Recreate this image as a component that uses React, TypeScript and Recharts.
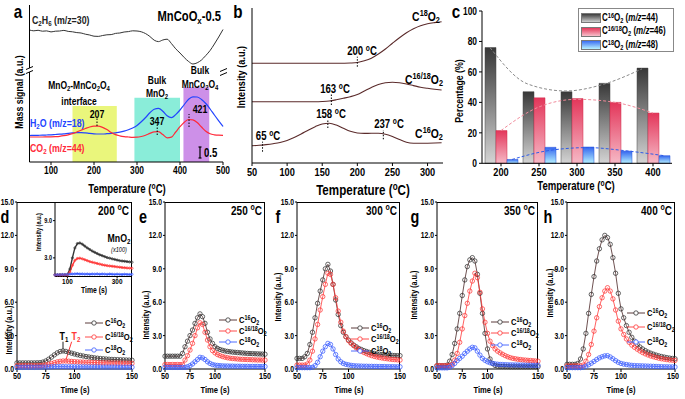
import React from "react";
import {
  LineChart,
  Line,
  XAxis,
  YAxis,
  ReferenceArea,
  ReferenceLine,
  ComposedChart,
  Bar,
} from "recharts";

const W = 685;
const H = 399;
const FONT = '"Liberation Sans", Arial, Helvetica, sans-serif';
const K = 0.8; // the figure uses a narrow bold face, so text is squeezed along its reading direction

// ---------- panel a (temperature in °C, signals in offset units)
const tempA = [50, 60, 70, 80, 90, 100, 110, 120, 130, 140, 150, 160, 170, 180, 190, 200, 210, 220, 230, 240, 250, 260, 270, 280, 290, 300, 310, 320, 330, 340, 350, 360, 370, 380, 390, 400, 410, 420, 430, 440, 450, 460, 470, 480, 490, 500];
const c2h6A = [132, 131.2, 131.7, 130.8, 131.1, 130.1, 130.8, 131, 131.6, 130.6, 130.2, 129.4, 129, 127.8, 127, 125.8, 125.6, 126.5, 127.2, 127.4, 128.6, 129, 130, 130.4, 131.2, 131, 130.2, 128.4, 125.5, 121.8, 120.4, 122, 122.8, 118.5, 113.2, 109, 104.4, 100.5, 98, 99.2, 102, 106.5, 111.5, 118, 125, 132.5];
const h2oA = [26.5, 26.6, 26.7, 26.8, 27, 27.2, 27.5, 27.8, 28.2, 28.7, 29.1, 29.4, 29.4, 29.1, 28.6, 28.2, 28, 28, 28.3, 28.7, 29.2, 29.8, 30.8, 32.2, 34, 36.5, 40.2, 44.5, 49.2, 52.8, 53.6, 50.8, 46.2, 44.4, 47.4, 52, 57.5, 62.8, 65.2, 65, 62.6, 58.5, 53, 47, 41.2, 35.5];
const co2A = [25, 25, 25, 25, 25.1, 25.2, 25.4, 25.7, 26.3, 27.2, 28.4, 30, 31.8, 33.5, 35, 35.8, 35.9, 34.6, 32.4, 29.5, 27.4, 26.2, 25.4, 25, 24.7, 24.8, 25.5, 26.8, 28.6, 30.1, 30.3, 27.4, 24.2, 24.8, 30, 35.3, 39.8, 42.5, 42.2, 39.5, 35, 30.7, 28.2, 27.2, 26.8, 26.7];

// ---------- panel b
const tempB = [50, 60, 70, 80, 90, 100, 110, 120, 130, 140, 150, 160, 170, 180, 190, 200, 210, 220, 230, 240, 250, 260, 270, 280, 290, 300, 310, 320];
const c18B = [99.7, 99.7, 99.7, 99.7, 99.7, 99.7, 99.7, 99.7, 99.7, 99.7, 99.7, 99.7, 99.7, 99.8, 100, 100.5, 102.2, 104.8, 109, 114, 119.7, 125.2, 130.2, 134.2, 137.2, 139.2, 140.4, 141.3];
const c1618B = [61.3, 61.3, 61.3, 61.3, 61.3, 61.3, 61.3, 61.3, 61.3, 61.3, 61.5, 62, 63.2, 64.7, 66.3, 68.5, 72, 75.5, 78.5, 80.2, 80.7, 80.2, 79, 77.4, 75.8, 74.7, 73.8, 73];
const c16B = [17.3, 17.7, 18.4, 19.3, 20.5, 22.5, 25.5, 29, 32.8, 36.3, 39, 39.7, 38, 34.7, 31.7, 30, 29.6, 29.7, 29.7, 28.8, 26.5, 23.5, 20.8, 19.8, 19.7, 19.8, 20, 20.3];

// ---------- panel c (percentage)
const catC = ["200", "250", "300", "350", "400"];
const c16C = [76, 47, 47, 52.5, 62.5];
const c1618C = [21.5, 43, 42.5, 40, 33];
const c18C = [2.5, 10.5, 10.7, 8, 5];
const c16Fit = [76, 52, 47.5, 52, 62];
const c1618Fit = [21.5, 37, 42, 40, 33];
const c18Fit = [2.5, 8.5, 10.3, 8.2, 5];

// ---------- panels d-h (time in s)
const timeS = [50, 52.5, 55, 57.5, 60, 62.5, 65, 67.5, 70, 72.5, 75, 77.5, 80, 82.5, 85, 87.5, 90, 92.5, 95, 97.5, 100, 102.5, 105, 107.5, 110, 112.5, 115, 117.5, 120, 122.5, 125, 127.5, 130, 132.5, 135, 137.5, 140, 142.5, 145, 147.5, 150];

const dBlack = [0.55, 0.55, 0.55, 0.55, 0.55, 0.55, 0.55, 0.56, 0.57, 0.62, 0.72, 0.88, 1.07, 1.27, 1.45, 1.57, 1.62, 1.58, 1.5, 1.42, 1.35, 1.28, 1.22, 1.17, 1.12, 1.08, 1.04, 1.0, 0.97, 0.94, 0.92, 0.9, 0.88, 0.86, 0.85, 0.84, 0.83, 0.82, 0.81, 0.8, 0.79];
const dRed = [0.3, 0.3, 0.3, 0.3, 0.3, 0.3, 0.3, 0.3, 0.31, 0.33, 0.37, 0.43, 0.5, 0.57, 0.64, 0.69, 0.72, 0.72, 0.7, 0.68, 0.66, 0.64, 0.63, 0.62, 0.61, 0.6, 0.59, 0.58, 0.57, 0.56, 0.56, 0.55, 0.55, 0.54, 0.54, 0.53, 0.53, 0.52, 0.52, 0.51, 0.51];
const dBlue = [0.15, 0.16, 0.15, 0.16, 0.15, 0.16, 0.15, 0.16, 0.16, 0.17, 0.17, 0.18, 0.19, 0.2, 0.21, 0.21, 0.21, 0.2, 0.2, 0.2, 0.19, 0.19, 0.19, 0.19, 0.18, 0.18, 0.18, 0.18, 0.18, 0.18, 0.17, 0.17, 0.17, 0.17, 0.17, 0.17, 0.17, 0.16, 0.16, 0.16, 0.16];

const eBlack = [1.15, 1.15, 1.15, 1.15, 1.15, 1.15, 1.15, 1.4, 2.0, 2.5, 3.0, 3.5, 4.1, 4.6, 4.95, 4.7, 4.1, 3.3, 2.7, 2.3, 2.0, 1.85, 1.75, 1.68, 1.62, 1.58, 1.55, 1.52, 1.5, 1.48, 1.46, 1.44, 1.42, 1.4, 1.39, 1.38, 1.37, 1.36, 1.35, 1.34, 1.33];
const eRed = [0.4, 0.4, 0.4, 0.4, 0.4, 0.4, 0.4, 0.4, 0.8, 1.2, 1.7, 2.3, 3.0, 3.7, 4.15, 4.0, 3.3, 2.6, 2.0, 1.65, 1.45, 1.3, 1.2, 1.12, 1.06, 1.01, 0.97, 0.94, 0.92, 0.9, 0.88, 0.87, 0.86, 0.85, 0.84, 0.83, 0.82, 0.81, 0.81, 0.8, 0.8];
const eBlue = [0.15, 0.15, 0.15, 0.15, 0.15, 0.15, 0.15, 0.15, 0.15, 0.2, 0.3, 0.45, 0.65, 0.85, 1.05, 1.0, 0.85, 0.65, 0.5, 0.4, 0.35, 0.32, 0.3, 0.28, 0.27, 0.27, 0.26, 0.26, 0.25, 0.25, 0.25, 0.24, 0.24, 0.24, 0.23, 0.23, 0.23, 0.23, 0.22, 0.22, 0.22];

const fBlack = [0.95, 0.95, 0.95, 1.1, 1.4, 2.2, 3.3, 4.6, 5.9, 7.0, 8.0, 9.0, 9.4, 8.8, 7.6, 6.2, 4.9, 3.9, 3.3, 2.9, 2.6, 2.35, 2.15, 2.0, 1.85, 1.75, 1.65, 1.57, 1.5, 1.45, 1.4, 1.36, 1.33, 1.3, 1.28, 1.26, 1.24, 1.22, 1.21, 1.2, 1.2];
const fRed = [0.35, 0.35, 0.35, 0.35, 0.45, 0.8, 1.6, 2.7, 4.0, 5.3, 6.5, 7.6, 8.6, 8.5, 7.6, 6.4, 5.2, 4.2, 3.4, 2.9, 2.55, 2.3, 2.1, 1.9, 1.75, 1.6, 1.48, 1.38, 1.28, 1.2, 1.13, 1.08, 1.03, 0.99, 0.95, 0.92, 0.89, 0.86, 0.84, 0.82, 0.8];
const fBlue = [0.12, 0.12, 0.12, 0.12, 0.12, 0.12, 0.15, 0.3, 0.6, 1.1, 1.6, 2.0, 2.3, 2.2, 1.8, 1.3, 0.9, 0.65, 0.5, 0.42, 0.37, 0.33, 0.3, 0.28, 0.27, 0.26, 0.25, 0.25, 0.24, 0.24, 0.23, 0.23, 0.22, 0.22, 0.22, 0.21, 0.21, 0.21, 0.2, 0.2, 0.2];

const gBlack = [0.3, 0.3, 0.3, 0.3, 0.35, 0.7, 1.3, 2.3, 3.6, 5.0, 6.6, 8.0, 9.2, 9.8, 10.0, 9.7, 8.5, 6.8, 5.0, 3.2, 1.8, 0.9, 0.5, 0.32, 0.25, 0.22, 0.22, 0.21, 0.21, 0.2, 0.2, 0.2, 0.2, 0.2, 0.2, 0.2, 0.2, 0.2, 0.2, 0.2, 0.2];
const gRed = [0.3, 0.3, 0.3, 0.3, 0.3, 0.3, 0.4, 0.8, 1.4, 2.4, 3.6, 4.8, 5.9, 7.0, 7.9, 8.6, 8.2, 6.9, 5.4, 4.2, 3.2, 2.5, 2.1, 1.8, 1.6, 1.45, 1.32, 1.2, 1.1, 1.02, 0.96, 0.92, 0.88, 0.85, 0.82, 0.8, 0.78, 0.76, 0.74, 0.72, 0.7];
const gBlue = [0.1, 0.1, 0.1, 0.1, 0.1, 0.15, 0.3, 0.5, 0.75, 0.95, 1.15, 1.4, 1.6, 1.8, 1.95, 1.9, 1.6, 1.25, 0.95, 0.78, 0.65, 0.56, 0.5, 0.46, 0.43, 0.41, 0.4, 0.39, 0.38, 0.37, 0.37, 0.36, 0.36, 0.35, 0.35, 0.34, 0.34, 0.34, 0.33, 0.33, 0.33];

const hBlack = [0.42, 0.42, 0.42, 0.42, 0.5, 0.9, 1.8, 3.2, 5.0, 6.7, 8.3, 9.7, 10.8, 11.6, 12.0, 11.8, 11.2, 10.0, 8.6, 6.8, 5.4, 4.6, 3.9, 3.3, 2.85, 2.5, 2.2, 1.98, 1.8, 1.65, 1.52, 1.42, 1.33, 1.25, 1.18, 1.12, 1.07, 1.02, 0.98, 0.95, 0.92];
const hRed = [0.28, 0.28, 0.28, 0.28, 0.28, 0.28, 0.35, 0.7, 1.3, 2.2, 3.4, 4.6, 5.6, 6.4, 7.0, 7.3, 7.0, 6.3, 5.3, 4.3, 3.6, 3.1, 2.7, 2.4, 2.15, 1.95, 1.78, 1.62, 1.48, 1.36, 1.26, 1.17, 1.1, 1.03, 0.97, 0.92, 0.88, 0.84, 0.81, 0.79, 0.77];
const hBlue = [0.12, 0.12, 0.12, 0.12, 0.12, 0.12, 0.15, 0.25, 0.38, 0.52, 0.68, 0.85, 1.0, 1.1, 1.18, 1.2, 1.08, 0.92, 0.75, 0.6, 0.5, 0.44, 0.4, 0.36, 0.33, 0.31, 0.3, 0.29, 0.28, 0.27, 0.26, 0.25, 0.24, 0.23, 0.22, 0.21, 0.2, 0.2, 0.19, 0.19, 0.18];

// inset of d (MnO2, x100)
const timeInset = [50, 60, 70, 80, 90, 100, 110, 120, 130, 140, 150, 160, 170, 180, 190, 200, 210, 220, 230, 240, 250, 260, 270, 280, 290, 300, 310, 320, 330, 340, 350, 360];
const insetBlack = [0.3, 0.3, 0.3, 0.3, 0.3, 0.3, 1.2, 3.0, 4.6, 5.3, 5.4, 5.2, 4.9, 4.6, 4.35, 4.1, 3.9, 3.7, 3.5, 3.35, 3.2, 3.05, 2.95, 2.85, 2.75, 2.65, 2.55, 2.5, 2.45, 2.4, 2.35, 2.3];
const insetRed = [0.25, 0.25, 0.25, 0.25, 0.25, 0.25, 0.7, 1.8, 2.6, 2.9, 2.95, 2.85, 2.7, 2.55, 2.4, 2.3, 2.2, 2.1, 2.0, 1.9, 1.82, 1.75, 1.7, 1.65, 1.6, 1.55, 1.5, 1.45, 1.42, 1.38, 1.35, 1.32];
const insetBlue = [0.25, 0.3, 0.28, 0.32, 0.3, 0.35, 0.38, 0.4, 0.42, 0.45, 0.4, 0.42, 0.38, 0.4, 0.36, 0.4, 0.38, 0.42, 0.36, 0.4, 0.38, 0.35, 0.4, 0.37, 0.34, 0.38, 0.35, 0.33, 0.36, 0.34, 0.32, 0.35];

const BLACK = "#333";
const BLACK_LINE = "#4a2626";
const RED = "#ff3838";
const BLUE = "#3a5cff";

// chart margins so that the plot area lands on page coordinates
const plot = (l: number, t: number, r: number, b: number, yw: number, xh: number) => ({
  left: l - yw,
  top: t,
  right: W - r,
  bottom: H - b - xh,
});

const layer: React.CSSProperties = { position: "absolute", left: 0, top: 0 };
const axisStroke = { stroke: "#000", strokeWidth: 1 };

// tick text squeezed horizontally like the narrow face of the figure
const narrowTick = (fs: number, vertical: boolean, fmt?: (v: number) => string) => (props: any) => {
  const { x, y, payload, textAnchor } = props;
  const label = fmt ? fmt(Number(payload.value)) : String(payload.value);
  return (
    <text
      transform={`translate(${x},${y}) scale(${K},1)`}
      textAnchor={textAnchor}
      dy={vertical ? "0.35em" : "0.71em"}
      fontSize={fs}
      fontWeight={700}
      fontFamily={FONT}
      fill="#000"
    >
      {label}
    </text>
  );
};
const fixed1 = (v: number) => v.toFixed(1);

const Sb = ({ children }: { children: React.ReactNode }) => (
  <span style={{ fontSize: "0.7em", verticalAlign: "-0.3em", lineHeight: 0 }}>{children}</span>
);
const Sp = ({ children }: { children: React.ReactNode }) => (
  <span style={{ fontSize: "0.7em", verticalAlign: "0.5em", lineHeight: 0 }}>{children}</span>
);

type TxtProps = {
  x: number;
  y: number;
  s?: number;
  c?: string;
  a?: "start" | "middle" | "end";
  rot?: boolean;
  w?: number;
  it?: boolean;
  children: React.ReactNode;
};

function Txt({ x, y, s = 9, c = "#000", a = "middle", rot = false, w = 700, it = false, children }: TxtProps) {
  const tx = a === "middle" ? "-50%" : a === "end" ? "-100%" : "0%";
  const origin = a === "middle" ? "50% 50%" : a === "end" ? "100% 50%" : "0% 50%";
  return (
    <div
      style={{
        position: "absolute",
        left: x,
        top: y,
        transform: `translate(${tx}, -50%)${rot ? " rotate(-90deg)" : ""} scale(${K}, 1)`,
        transformOrigin: origin,
        whiteSpace: "nowrap",
        fontFamily: FONT,
        fontSize: s,
        fontWeight: w,
        fontStyle: it ? "italic" : "normal",
        color: c,
        lineHeight: 1,
      }}
    >
      {children}
    </div>
  );
}

const Deg = () => (
  <>
    <Sp>o</Sp>C
  </>
);

function PanelA() {
  const rows = tempA.map((t, i) => ({ t, c2h6: c2h6A[i], h2o: h2oA[i], co2: co2A[i] }));
  const dotted = { stroke: "#000", strokeWidth: 1, strokeDasharray: "1.5 1.5" };
  return (
    <div style={layer}>
      <LineChart width={W} height={H} data={rows} margin={plot(29.5, 5, 223, 162, 10, 20)}>
        <ReferenceArea x1={150} x2={253} y1={0} y2={56} fill="#eaf67c" fillOpacity={1} stroke="none" />
        <ReferenceArea x1={294} x2={400} y1={0} y2={64.3} fill="#8aedd9" fillOpacity={1} stroke="none" />
        <ReferenceArea x1={408} x2={468} y1={0} y2={74.7} fill="#cd90e8" fillOpacity={1} stroke="none" />
        <XAxis
          dataKey="t"
          type="number"
          domain={[50, 500]}
          ticks={[100, 200, 300, 400, 500]}
          height={20}
          tick={narrowTick(10.5, false)}
          tickSize={3}
          axisLine={axisStroke}
          tickLine={axisStroke}
        />
        <YAxis width={10} domain={[0, 157]} tick={false} tickLine={false} axisLine={axisStroke} />
        <Line dataKey="c2h6" stroke="#333" strokeWidth={1} dot={false} type="monotone" isAnimationActive={false} />
        <Line dataKey="h2o" stroke="#2244ff" strokeWidth={1.2} dot={false} type="monotone" isAnimationActive={false} />
        <Line dataKey="co2" stroke="#ff2a3a" strokeWidth={1.2} dot={false} type="monotone" isAnimationActive={false} />
        <ReferenceLine segment={[{ x: 207, y: 36 }, { x: 207, y: 44 }]} {...dotted} />
        <ReferenceLine segment={[{ x: 347, y: 27 }, { x: 347, y: 38 }]} {...dotted} />
        <ReferenceLine segment={[{ x: 421, y: 35 }, { x: 421, y: 48 }]} {...dotted} />
        <ReferenceLine segment={[{ x: 446.5, y: 4 }, { x: 446.5, y: 15 }]} stroke="#000" strokeWidth={1.2} />
        <ReferenceLine segment={[{ x: 443, y: 4 }, { x: 450, y: 4 }]} stroke="#000" strokeWidth={1.2} />
        <ReferenceLine segment={[{ x: 443, y: 15 }, { x: 450, y: 15 }]} stroke="#000" strokeWidth={1.2} />
      </LineChart>
      {/* axis break marks */}
      <svg width={W} height={H} style={{ position: "absolute", left: 0, top: 0 }}>
        <rect x={27} y={68} width={5} height={4} fill="#fff" />
        <line x1={26} y1={69.5} x2={33} y2={66.5} stroke="#000" strokeWidth={1} />
        <line x1={26} y1={73.5} x2={33} y2={70.5} stroke="#000" strokeWidth={1} />
        <line x1={220} y1={71.5} x2={227} y2={68.5} stroke="#000" strokeWidth={1} />
        <line x1={220} y1={75.5} x2={227} y2={72.5} stroke="#000" strokeWidth={1} />
      </svg>
      <Txt x={18} y={11} s={19}>a</Txt>
      <Txt x={19} y={92} s={11} rot>Mass signal (a.u.)</Txt>
      <Txt x={127} y={189} s={12}>Temperature (<Deg />)</Txt>
      <Txt x={32} y={20} s={11} a="start" c="#222">C<Sb>2</Sb>H<Sb>6</Sb> (m/z=30)</Txt>
      <Txt x={221} y={16} s={14} a="end">MnCoO<Sb>x</Sb>-0.5</Txt>
      <Txt x={79} y={85} s={10.6}>MnO<Sb>2</Sb>-MnCo<Sb>2</Sb>O<Sb>4</Sb></Txt>
      <Txt x={79} y={101} s={10.6}>interface</Txt>
      <Txt x={157} y={80} s={10.6}>Bulk</Txt>
      <Txt x={157} y={93} s={10.6}>MnO<Sb>2</Sb></Txt>
      <Txt x={200} y={70} s={10.6}>Bulk</Txt>
      <Txt x={200} y={84} s={10.6}>MnCo<Sb>2</Sb>O<Sb>4</Sb></Txt>
      <Txt x={97} y={114} s={11}>207</Txt>
      <Txt x={157} y={121} s={11}>347</Txt>
      <Txt x={200} y={109} s={11}>421</Txt>
      <Txt x={30} y={123} s={11} a="start" c="#2244ff">H<Sb>2</Sb>O (m/z=18)</Txt>
      <Txt x={30} y={148} s={11} a="start" c="#ff2a3a">CO<Sb>2</Sb> (m/z=44)</Txt>
      <Txt x={204} y={153} s={12} a="start">0.5</Txt>
    </div>
  );
}

function PanelB() {
  const rows = tempB.map((t, i) => ({ t, c18: c18B[i], c1618: c1618B[i], c16: c16B[i] }));
  const dotted = { stroke: "#000", strokeWidth: 1, strokeDasharray: "1.5 1.5" };
  const line = "#5b2b2b";
  return (
    <div style={layer}>
      <LineChart width={W} height={H} data={rows} margin={plot(252, 8, 443, 163, 5, 20)}>
        <XAxis
          dataKey="t"
          type="number"
          domain={[50, 322]}
          ticks={[50, 100, 150, 200, 250, 300]}
          height={20}
          tick={narrowTick(11.5, false)}
          tickSize={3}
          axisLine={axisStroke}
          tickLine={axisStroke}
        />
        <YAxis width={5} domain={[0, 155]} tick={false} tickLine={false} axisLine={axisStroke} />
        <Line dataKey="c18" stroke={line} strokeWidth={1.1} dot={false} type="monotone" isAnimationActive={false} />
        <Line dataKey="c1618" stroke={line} strokeWidth={1.1} dot={false} type="monotone" isAnimationActive={false} />
        <Line dataKey="c16" stroke={line} strokeWidth={1.1} dot={false} type="monotone" isAnimationActive={false} />
        <ReferenceLine segment={[{ x: 200, y: 96.3 }, { x: 200, y: 106.3 }]} {...dotted} />
        <ReferenceLine segment={[{ x: 163, y: 58 }, { x: 163, y: 70 }]} {...dotted} />
        <ReferenceLine segment={[{ x: 65, y: 11.3 }, { x: 65, y: 21.3 }]} {...dotted} />
        <ReferenceLine segment={[{ x: 158, y: 35 }, { x: 158, y: 43 }]} {...dotted} />
        <ReferenceLine segment={[{ x: 237, y: 23.7 }, { x: 237, y: 33 }]} {...dotted} />
      </LineChart>
      <Txt x={238} y={11} s={19}>b</Txt>
      <Txt x={242} y={77} s={11.5} rot>Intensity (a.u.)</Txt>
      <Txt x={363} y={190} s={14.5}>Temperature (<Deg />)</Txt>
      <Txt x={362} y={51} s={12}>200 <Deg /></Txt>
      <Txt x={335} y={89} s={12}>163 <Deg /></Txt>
      <Txt x={268} y={136} s={12}>65 <Deg /></Txt>
      <Txt x={331} y={114} s={12}>158 <Deg /></Txt>
      <Txt x={389} y={124} s={12}>237 <Deg /></Txt>
      <Txt x={426} y={16} s={13}>C<Sp>18</Sp>O<Sb>2</Sb></Txt>
      <Txt x={424} y={79} s={13}>C<Sp>16/18</Sp>O<Sb>2</Sb></Txt>
      <Txt x={429} y={133} s={13}>C<Sp>16</Sp>O<Sb>2</Sb></Txt>
    </div>
  );
}

function PanelC() {
  const rows = catC.map((cat, i) => ({ cat, c16: c16C[i], c1618: c1618C[i], c18: c18C[i] }));
  // bar centres sit one bar width (11 px of a 38 px band) either side of the category centre
  const shift = 11 / 38;
  const fit = (vals: number[], off: number) => vals.map((v, i) => ({ pos: i + off, v }));
  const legendRows = [
    { g: "linear-gradient(#3d3d3d, #cfcfcf)", label: "16", mz: "44" },
    { g: "linear-gradient(#e5385a, #f7c0cc)", label: "16/18", mz: "46" },
    { g: "linear-gradient(#3b6ef2, #b8f2ff)", label: "18", mz: "48" },
  ];
  return (
    <div style={layer}>
      <ComposedChart width={W} height={H} data={rows} margin={plot(482, 11, 672, 163.3, 20, 20)} barGap={0}>
        <defs>
          <linearGradient id="gGray" x1="0" y1="0" x2="0" y2="1">
            <stop offset="0%" stopColor="#383838" />
            <stop offset="100%" stopColor="#d4d4d4" />
          </linearGradient>
          <linearGradient id="gRed" x1="0" y1="0" x2="0" y2="1">
            <stop offset="0%" stopColor="#e3365a" />
            <stop offset="100%" stopColor="#f6b9c6" />
          </linearGradient>
          <linearGradient id="gBlue" x1="0" y1="0" x2="0" y2="1">
            <stop offset="0%" stopColor="#3466ef" />
            <stop offset="100%" stopColor="#b4f0ff" />
          </linearGradient>
        </defs>
        <XAxis
          xAxisId="cat"
          dataKey="cat"
          height={20}
          tick={narrowTick(11.5, false)}
          tickSize={3}
          axisLine={axisStroke}
          tickLine={axisStroke}
        />
        <XAxis xAxisId="num" dataKey="pos" type="number" domain={[-0.5, 4.5]} hide allowDataOverflow />
        <YAxis
          width={20}
          domain={[0, 100]}
          ticks={[0, 20, 40, 60, 80, 100]}
          tick={narrowTick(10.5, true)}
          tickSize={3}
          axisLine={axisStroke}
          tickLine={axisStroke}
        />
        <Bar xAxisId="cat" dataKey="c16" fill="url(#gGray)" stroke="#444" strokeWidth={0.5} barSize={11} isAnimationActive={false} />
        <Bar xAxisId="cat" dataKey="c1618" fill="url(#gRed)" stroke="#d02a4a" strokeWidth={0.5} barSize={11} isAnimationActive={false} />
        <Bar xAxisId="cat" dataKey="c18" fill="url(#gBlue)" stroke="#2a55d8" strokeWidth={0.5} barSize={11} isAnimationActive={false} />
        <Line xAxisId="num" data={fit(c16Fit, -shift)} dataKey="v" type="monotone" stroke="#8a8a8a" strokeWidth={1} strokeDasharray="3 2" dot={false} isAnimationActive={false} />
        <Line xAxisId="num" data={fit(c1618Fit, 0)} dataKey="v" type="monotone" stroke="#f08a9a" strokeWidth={1} strokeDasharray="3 2" dot={false} isAnimationActive={false} />
        <Line xAxisId="num" data={fit(c18Fit, shift)} dataKey="v" type="monotone" stroke="#2f5be8" strokeWidth={1} strokeDasharray="3 2" dot={false} isAnimationActive={false} />
      </ComposedChart>
      <div
        style={{
          position: "absolute",
          left: 578,
          top: 8,
          width: 96,
          height: 44,
          border: "1px solid #888",
          boxSizing: "border-box",
          background: "#fff",
        }}
      />
      {legendRows.map((r, i) => (
        <React.Fragment key={r.label}>
          <div
            style={{
              position: "absolute",
              left: 581,
              top: 13 + i * 13.5,
              width: 18,
              height: 8,
              background: r.g,
              border: "0.5px solid #777",
            }}
          />
          <Txt x={602} y={17.5 + i * 13.5} s={10} a="start">
            C<Sp>{r.label}</Sp>O<Sb>2</Sb> (<i>m/z</i>={r.mz})
          </Txt>
        </React.Fragment>
      ))}
      <Txt x={456} y={11} s={19}>c</Txt>
      <Txt x={459} y={91} s={11} rot>Percentage (%)</Txt>
      <Txt x={576} y={186} s={12}>Temperature (<Deg />)</Txt>
    </div>
  );
}

type Kin = {
  letter: string;
  lx: number;
  l: number;
  r: number;
  black: number[];
  red: number[];
  blue: number[];
  temp: string;
  legX: number;
  legY: number[];
  yl: [number, number];
  onset?: boolean;
};

const kinPanels: Kin[] = [
  { letter: "d", lx: 5, l: 17, r: 132, black: dBlack, red: dRed, blue: dBlue, temp: "200", legX: 85, legY: [323, 337, 350], yl: [9, 330], onset: true },
  { letter: "e", lx: 143, l: 165, r: 265, black: eBlack, red: eRed, blue: eBlue, temp: "250", legX: 219, legY: [320, 331, 342], yl: [146, 315] },
  { letter: "f", lx: 278, l: 297, r: 400, black: fBlack, red: fRed, blue: fBlue, temp: "300", legX: 351, legY: [328, 339, 351], yl: [278, 297] },
  { letter: "g", lx: 415, l: 437, r: 538, black: gBlack, red: gRed, blue: gBlue, temp: "350", legX: 491, legY: [322, 333, 345], yl: [414, 295] },
  { letter: "h", lx: 548, l: 567, r: 675, black: hBlack, red: hRed, blue: hBlue, temp: "400", legX: 627, legY: [313, 327, 342], yl: [550, 293] },
];

const seriesStyle = [
  { key: "black", line: BLACK_LINE, mark: BLACK, sup: "16" },
  { key: "red", line: RED, mark: RED, sup: "16/18" },
  { key: "blue", line: BLUE, mark: BLUE, sup: "18" },
];

function KineticPanel({ p }: { p: Kin }) {
  const rows = timeS.map((t, i) => ({ t, black: p.black[i], red: p.red[i], blue: p.blue[i] }));
  const top = 202;
  const bottom = 369;
  return (
    <div style={layer}>
      <div
        style={{
          position: "absolute",
          left: p.l,
          top,
          width: p.r - p.l,
          height: bottom - top,
          border: "1px solid #000",
          boxSizing: "border-box",
          borderBottom: "none",
          borderLeft: "none",
        }}
      />
      <LineChart width={W} height={H} data={rows} margin={plot(p.l, top, p.r, bottom, 14, 20)}>
        <XAxis
          dataKey="t"
          type="number"
          domain={[50, 150]}
          ticks={[50, 75, 100, 125, 150]}
          height={20}
          tick={narrowTick(9, false)}
          tickSize={3}
          tickMargin={1}
          axisLine={axisStroke}
          tickLine={axisStroke}
        />
        <YAxis
          width={14}
          domain={[0, 15]}
          ticks={[0, 3, 6, 9, 12, 15]}
          tick={narrowTick(8.5, true, fixed1)}
          tickSize={2}
          tickMargin={1}
          axisLine={axisStroke}
          tickLine={axisStroke}
        />
        {seriesStyle.map((s) => (
          <Line
            key={s.key}
            dataKey={s.key}
            stroke={s.line}
            strokeWidth={0.8}
            dot={{ r: 2.2, fill: "none", stroke: s.mark, strokeWidth: 0.75 }}
            isAnimationActive={false}
          />
        ))}
        {p.onset && (
          <ReferenceLine segment={[{ x: 90, y: 1.75 }, { x: 90, y: 2.45 }]} stroke="#222" strokeWidth={1} />
        )}
        {p.onset && (
          <ReferenceLine segment={[{ x: 97.5, y: 2.45 }, { x: 92.5, y: 0.8 }]} stroke={RED} strokeWidth={1} />
        )}
      </LineChart>
      {seriesStyle.map((s, i) => (
        <React.Fragment key={s.key}>
          <svg width={18} height={6} style={{ position: "absolute", left: p.legX, top: p.legY[i] - 3 }}>
            <line x1={0} y1={3} x2={18} y2={3} stroke={s.line} strokeWidth={0.9} />
            <circle cx={9} cy={3} r={2.2} fill="#fff" stroke={s.mark} strokeWidth={0.8} />
          </svg>
          <Txt x={p.legX + 20} y={p.legY[i]} s={9.5} a="start">
            C<Sp>{s.sup}</Sp>O<Sb>2</Sb>
          </Txt>
        </React.Fragment>
      ))}
      {p.onset && (
        <>
          <Txt x={64} y={336} s={11}>T<Sb>1</Sb></Txt>
          <Txt x={76} y={336} s={11} c={RED}>T<Sb>2</Sb></Txt>
        </>
      )}
      <Txt x={p.lx} y={217} s={18}>{p.letter}</Txt>
      <Txt x={p.r - 3} y={211} s={12.5} a="end">{p.temp} <Deg /></Txt>
      <Txt x={p.yl[0]} y={p.yl[1]} s={9} rot>Intensity (a.u.)</Txt>
      <Txt x={(p.l + p.r) / 2} y={390} s={9.5}>Time (s)</Txt>
    </div>
  );
}

function Inset() {
  const rows = timeInset.map((t, i) => ({ t, black: insetBlack[i], red: insetRed[i], blue: insetBlue[i] }));
  return (
    <div style={layer}>
      <LineChart width={W} height={H} data={rows} margin={plot(55, 202, 132, 276.5, 14, 12)}>
        <XAxis
          dataKey="t"
          type="number"
          domain={[50, 360]}
          ticks={[100, 200, 300]}
          height={12}
          tick={narrowTick(8, false)}
          tickSize={2}
          tickMargin={0}
          axisLine={axisStroke}
          tickLine={axisStroke}
        />
        <YAxis
          width={14}
          domain={[0, 12]}
          ticks={[0, 3, 6, 9]}
          tick={narrowTick(7, true, fixed1)}
          tickSize={2}
          tickMargin={1}
          axisLine={axisStroke}
          tickLine={axisStroke}
        />
        {seriesStyle.map((s) => (
          <Line
            key={s.key}
            dataKey={s.key}
            stroke={s.mark}
            strokeWidth={1.4}
            dot={{ r: 1.1, fill: "none", stroke: s.mark, strokeWidth: 0.7 }}
            isAnimationActive={false}
          />
        ))}
      </LineChart>
      <Txt x={38} y={232} s={7} rot>Intensity (a.u.)</Txt>
      <Txt x={94} y={290} s={8.5}>Time (s)</Txt>
      <Txt x={119} y={238} s={11}>MnO<Sb>2</Sb></Txt>
      <Txt x={119} y={249} s={7} it w={400}>(x100)</Txt>
    </div>
  );
}

export default function App() {
  return (
    <div
      style={{
        position: "absolute",
        left: 0,
        top: 0,
        width: W,
        height: H,
        background: "#fff",
        overflow: "hidden",
        fontFamily: FONT,
      }}
    >
      <PanelA />
      <PanelB />
      <PanelC />
      {kinPanels.map((p) => (
        <KineticPanel key={p.letter} p={p} />
      ))}
      <Inset />
    </div>
  );
}
